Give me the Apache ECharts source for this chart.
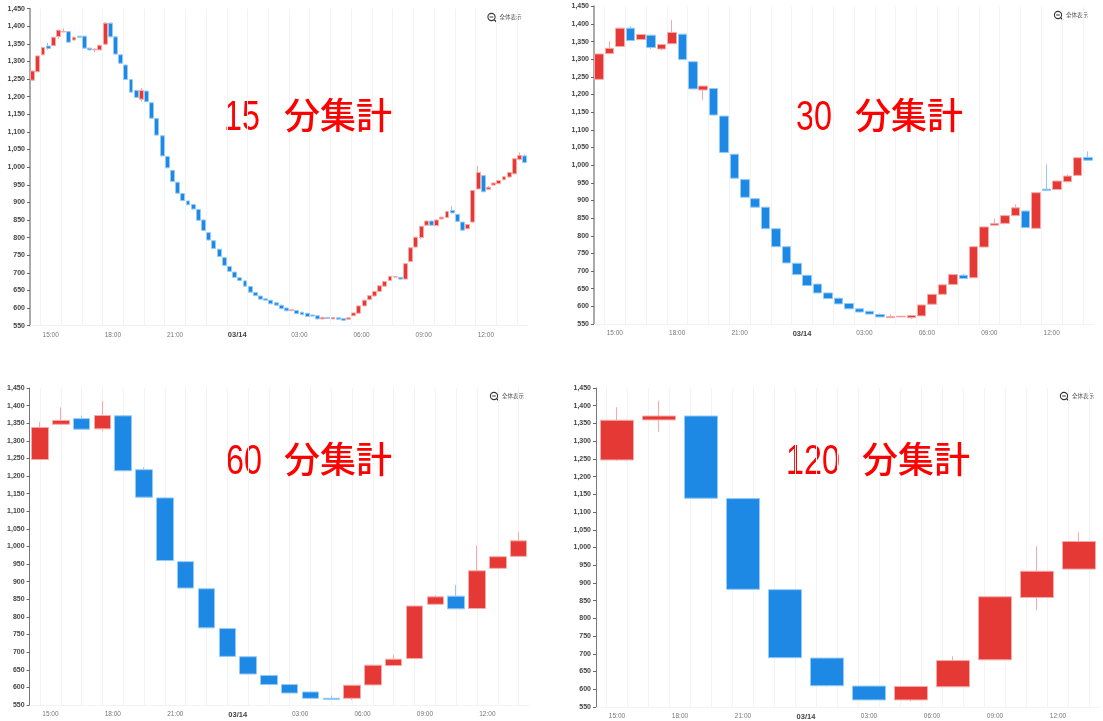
<!DOCTYPE html>
<html><head><meta charset="utf-8">
<style>html,body{margin:0;padding:0;background:#fff}#c{width:1103px;height:721px}</style>
<script src="https://cdn.jsdelivr.net/npm/echarts@6/dist/echarts.min.js"></script>
</head><body><div id="c"></div>
<script>
// each candle: [open, close, low, high]
const data15 = [
[1247,1273,1246,1274],[1271,1316,1270,1317],[1319,1340,1318,1341],[1344,1337,1333,1354],[1345,1369,1344,1370],[1371,1389,1365,1390],[1384,1385,1383,1394],[1385,1355,1354,1386],
[1361,1369,1360,1370],[1372,1369,1366,1373],[1372,1338,1337,1373],[1338,1333,1332,1339],[1333,1335,1326,1338],[1333,1346,1332,1347],[1349,1409,1348,1412],[1409,1370,1369,1411],
[1370,1321,1320,1371],[1319,1295,1294,1320],[1290,1249,1248,1291],[1249,1213,1212,1250],[1218,1198,1197,1219],[1193,1218,1186,1225],[1216,1186,1185,1217],[1183,1139,1138,1184],
[1138,1091,1090,1139],[1089,1032,1031,1090],[1030,998,997,1031],[991,959,958,992],[957,926,925,958],[925,905,904,926],[904,893,892,905],[894,881,880,895],
[880,849,848,881],[850,820,819,851],[814,793,792,815],[791,769,768,792],[767,746,745,768],[743,721,720,744],[718,704,703,719],[702,687,686,703],
[686,678,677,687],[677,662,661,678],[661,645,644,662],[644,635,634,645],[634,625,624,635],[626,622,621,627],[622,612,611,623],[615,608,607,616],
[608,598,597,609],[600,592,591,601],[593,595,590,596],[593,584,583,594],[588,581,580,589],[585,576,575,586],[580,577,576,581],[578,569,568,579],
[569,573,568,576],[573,570,569,574],[569,573,568,574],[572,568,567,573],[570,565,564,571],[568,572,567,573],[578,586,577,587],[585,606,584,607],
[606,622,605,623],[624,635,621,636],[634,647,633,648],[647,663,646,664],[662,675,661,676],[678,690,677,691],[688,689,685,691],[687,682,681,688],
[682,726,681,727],[732,771,731,772],[773,801,772,802],[800,832,795,833],[835,847,834,848],[847,835,834,848],[834,850,833,851],[853,858,852,859],
[857,874,856,875],[877,870,869,890],[866,846,845,867],[844,821,820,845],[825,837,824,838],[844,934,843,935],[938,985,937,1004],[976,930,929,977],
[937,943,936,946],[949,955,948,956],[953,962,952,963],[964,973,963,974],[972,985,971,986],[981,1024,980,1025],[1022,1033,1019,1042],[1032,1013,1012,1036]
];
const data30 = [
[1243,1315,1242,1316],[1316,1331,1315,1351],[1336,1388,1335,1389],[1388,1353,1352,1394],[1356,1370,1355,1371],[1368,1333,1329,1370],[1329,1342,1325,1343],[1344,1376,1343,1411],
[1371,1299,1298,1372],[1293,1216,1215,1294],[1213,1224,1185,1225],[1217,1142,1141,1218],[1139,1036,1035,1140],[1031,963,962,1032],[959,909,908,960],[905,881,880,906],
[881,820,819,882],[820,769,768,821],[769,723,722,770],[722,690,689,723],[688,659,658,689],[663,638,637,664],[638,622,621,639],[623,607,606,624],
[608,593,592,609],[593,584,583,594],[586,578,577,587],[577,570,569,580],[568,571,567,577],[570,572,569,573],[568,574,564,575],[573,604,572,605],
[606,634,605,635],[634,661,633,662],[662,690,661,691],[688,679,678,692],[681,769,680,770],[768,825,767,826],[830,835,829,849],[835,857,832,860],
[857,879,856,889],[870,823,822,872],[821,922,820,923],[932,928,927,1002],[931,955,930,956],[953,969,952,973],[971,1021,970,1022],[1022,1014,1013,1039]
];
const data60 = [
[1247,1338,1246,1353],[1347,1358,1344,1395],[1363,1333,1332,1372],[1334,1372,1327,1413],[1371,1215,1214,1372],[1218,1140,1139,1225],[1138,960,959,1139],[957,882,881,958],
[880,769,768,881],[767,688,687,768],[687,638,637,688],[634,608,607,635],[608,584,583,609],[587,569,568,588],[569,566,565,577],[569,606,564,607],
[607,663,606,664],[662,680,661,692],[682,831,681,832],[836,857,835,862],[859,823,822,891],[824,931,823,1003],[938,971,937,974],[972,1016,971,1041]
];
const data120 = [
[1247,1359,1245,1396],[1360,1371,1327,1414],[1371,1139,1138,1372],[1138,882,881,1139],[881,689,688,882],[688,610,608,689],
[609,570,569,610],[570,608,566,609],[607,681,606,693],[683,861,682,863],[859,933,823,1004],[939,1017,938,1043]
];
const chartData = [data15, data30, data60, data120];
const chartMinutes = ['15','30','60','120'];
const titleSuffix = '分集計';
const tickLabels = ['15:00','18:00','21:00','03/14','03:00','06:00','09:00','12:00'];
const resetText = '全体表示';

const grids = [
  {left:30,  top:8.7, width:497.3, height:316.9},
  {left:594, top:6.3, width:499.3, height:317.7},
  {left:29.6,top:388, width:499.4, height:317},
  {left:596, top:388, width:504,   height:320.3}
];
const barWidths = [4.4,9,17,34];
const axisStyles = [{color:'#aaaaaa',width:2},{color:'#aaaaaa',width:2},{color:'#777777',width:1},{color:'#777777',width:1}];
const digitPos = [[224,97],[796,97],[226,441],[786,441]];
const suffixPos = [[284,97],[855,97],[284,441],[862,441]];
const iconPos = [[491.5,17],[1058,15],[494,396],[1064,396]];

// half-hour slots across 24h; first slot is 14:00
const slots = new Array(49).fill('');
tickLabels.forEach((t,i)=>{ slots[2+i*6]=t; });

const xAxis=[], yAxis=[], series=[], graphic=[], title=[];
chartData.forEach((d,k)=>{
  xAxis.push({type:'category',gridIndex:k,show:false,boundaryGap:true,position:'bottom',data:d.map((_,i)=>i)});
  xAxis.push({type:'category',gridIndex:k,position:'bottom',boundaryGap:false,data:slots,
    axisLine:{show:true,lineStyle:{color:'#f2f2f2',width:1}},
    axisTick:{show:false},
    axisLabel:{show:true,margin:5,hideOverlap:false,
      interval:(i,v)=>v!=='',
      formatter:v=>(v==='03/14'?'{d|':'{t|')+v+'}',
      rich:{d:{fontSize:7.5,fontWeight:'bold',color:'#444',fontFamily:'Liberation Sans',height:9,lineHeight:9},
            t:{fontSize:6.5,color:'#777',fontFamily:'Liberation Sans',height:9,lineHeight:9}}},
    splitLine:{show:true,interval:(i)=>i%2===1,lineStyle:{color:'#f3f3f3',width:1}}});
  yAxis.push({type:'value',gridIndex:k,min:550,max:1450,interval:50,
    axisLine:{show:true,lineStyle:axisStyles[k]},
    axisTick:{show:true,length:3,lineStyle:{color:'#666',width:1}},
    axisLabel:{margin:5,color:'#444',fontSize:7,fontWeight:'bold',fontFamily:'Liberation Sans',showMinLabel:true,showMaxLabel:true,
      formatter:v=>v.toLocaleString('en-US')},
    splitLine:{show:false}});
  series.push({type:'candlestick',xAxisIndex:k*2,yAxisIndex:k,data:d,barWidth:barWidths[k],
    itemStyle:{color:'#e53935',color0:'#1e88e5',borderColor:'#f5aaa8',borderColor0:'#93caf6',borderWidth:1}});
  graphic.push({type:'text',x:digitPos[k][0],y:digitPos[k][1],scaleX:0.77,silent:true,
    style:{text:chartMinutes[k],fill:'#ff0000',fontSize:42,fontFamily:'Liberation Sans',verticalAlign:'top',shadowBlur:1.5,shadowColor:'rgba(255,0,0,0.9)'}});
  title.push({text:titleSuffix,left:suffixPos[k][0],top:suffixPos[k][1],padding:0,
    textStyle:{color:'#ff0000',fontSize:36,fontWeight:500,fontFamily:'"Noto Sans CJK JP"'}});
  const [ix,iy]=iconPos[k];
  graphic.push({type:'group',x:ix,y:iy,silent:true,children:[
    {type:'circle',shape:{cx:0,cy:0,r:3.6},style:{fill:'none',stroke:'#333',lineWidth:1.1}},
    {type:'line',shape:{x1:2.6,y1:2.6,x2:5,y2:5},style:{stroke:'#333',lineWidth:1.3}},
    {type:'line',shape:{x1:-1.8,y1:0,x2:1.8,y2:0},style:{stroke:'#333',lineWidth:1}},
    {type:'text',x:8,y:0,style:{text:resetText,fontSize:5.5,fill:'#555',fontFamily:'"Noto Sans CJK JP"',verticalAlign:'middle'}}
  ]});
});

const chart=echarts.init(document.getElementById('c'),null,{renderer:'canvas'});
chart.setOption({animation:false,backgroundColor:'#fff',grid:grids,xAxis,yAxis,series,graphic,title});
</script></body></html>
